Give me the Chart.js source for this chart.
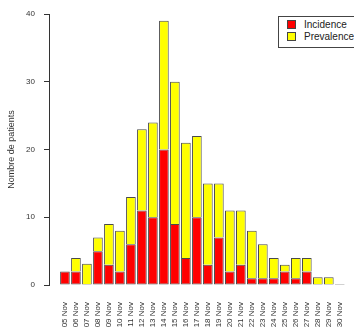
<!DOCTYPE html>
<html>
<head>
<meta charset="utf-8">
<script src="https://cdn.jsdelivr.net/npm/chart.js@4/dist/chart.umd.min.js"></script>
<style>
    body { margin: 0; background: #fff; }
    #wrap { position: relative; width: 354px; height: 333px; overflow: hidden; }
    #legend {
        position: absolute; left: 278px; top: 16px; width: 90px; height: 32px;
        border: 1px solid #444; background: #fff; box-sizing: border-box;
        font: 10px "Liberation Sans", Arial, sans-serif; color: #222;
        padding: 2px 0 0 8px; line-height: 12px;
    }
    #legend span.box {
        display: inline-block; width: 7px; height: 7px; border: 1px solid #444;
        margin-right: 8px; vertical-align: -1px;
    }
</style>
</head>
<body>
<div id="wrap">
    <canvas id="epiChart" width="354" height="333"></canvas>
    <div id="legend"></div>
</div>
<script>
// Dates (x axis)
const dates = ['05 Nov', '06 Nov', '07 Nov', '08 Nov', '09 Nov', '10 Nov', '11 Nov', '12 Nov',
    '13 Nov', '14 Nov', '15 Nov', '16 Nov', '17 Nov', '18 Nov', '19 Nov', '20 Nov', '21 Nov',
    '22 Nov', '23 Nov', '24 Nov', '25 Nov', '26 Nov', '27 Nov', '28 Nov', '29 Nov', '30 Nov'];

// Red part (bottom)
const incidence = [2, 2, 0, 5, 3, 2, 6, 11, 10, 20, 9, 4, 10, 3, 7, 2, 3, 1, 1, 1, 2, 1, 2, 0, 0, 0];
// Yellow part (stacked on top)
const prevalence = [0, 2, 3, 2, 6, 6, 7, 12, 14, 19, 21, 17, 12, 12, 8, 9, 8, 7, 5, 3, 1, 3, 2, 1, 1, 0];

const yTicks = [0, 10, 20, 30, 40];

const FONT = '"Liberation Sans", Arial, sans-serif';
const EDGE = '#4a4a4a';

const series = [
    { label: 'Incidence', values: incidence, color: '#ff0000' },
    { label: 'Prevalence', values: prevalence, color: '#ffff00' }
];

const ctx = document.getElementById('epiChart');

new Chart(ctx, {
    type: 'bar',
    data: {
        datasets: series.map((s, k) => ({
            label: s.label,
            data: s.values.map((v, i) => ({ x: i, y: v })),
            backgroundColor: s.color,
            borderColor: EDGE,
            borderWidth: 1,
            borderSkipped: k === 0 ? false : 'bottom',
            minBarLength: k === 0 ? 1 : 0,
            categoryPercentage: 1,
            barPercentage: 0.88
        }))
    },
    options: {
        responsive: false,
        animation: false,
        layout: { padding: { top: 14, right: 1, bottom: 0, left: 0 } },
        plugins: {
            legend: { display: false },
            tooltip: { enabled: false }
        },
        scales: {
            x: {
                type: 'linear',
                stacked: true,
                offset: false,
                min: -1.45,
                max: 26.2,
                afterBuildTicks: scale => {
                    scale.ticks = dates.map((d, i) => ({ value: i }));
                },
                afterFit: scale => {
                    scale.height = 48;
                    scale.paddingLeft = 0;
                    scale.paddingRight = 0;
                },
                ticks: {
                    autoSkip: false,
                    minRotation: 90,
                    maxRotation: 90,
                    padding: 9,
                    color: '#333',
                    font: { family: FONT, size: 8 },
                    callback: value => dates[value]
                },
                grid: { display: false },
                border: { display: false }
            },
            y: {
                stacked: true,
                min: 0,
                max: 40,
                afterBuildTicks: scale => {
                    scale.ticks = yTicks.map(v => ({ value: v }));
                },
                afterFit: scale => { scale.width = 49; },
                ticks: {
                    padding: 9,
                    color: '#333',
                    font: { family: FONT, size: 8 }
                },
                grid: { drawOnChartArea: false, drawTicks: true, tickLength: 5, color: '#333' },
                border: { display: true, color: '#333' },
                title: {
                    display: true,
                    text: 'Nombre de patients',
                    color: '#333',
                    font: { family: FONT, size: 9 },
                    padding: { top: 6, bottom: 0 }
                }
            }
        }
    }
});

// Legend box
const legend = document.getElementById('legend');
legend.innerHTML = series.map(s =>
    '<div><span class="box" style="background:' + s.color + '"></span>' + s.label + '</div>'
).join('');
</script>
</body>
</html>
